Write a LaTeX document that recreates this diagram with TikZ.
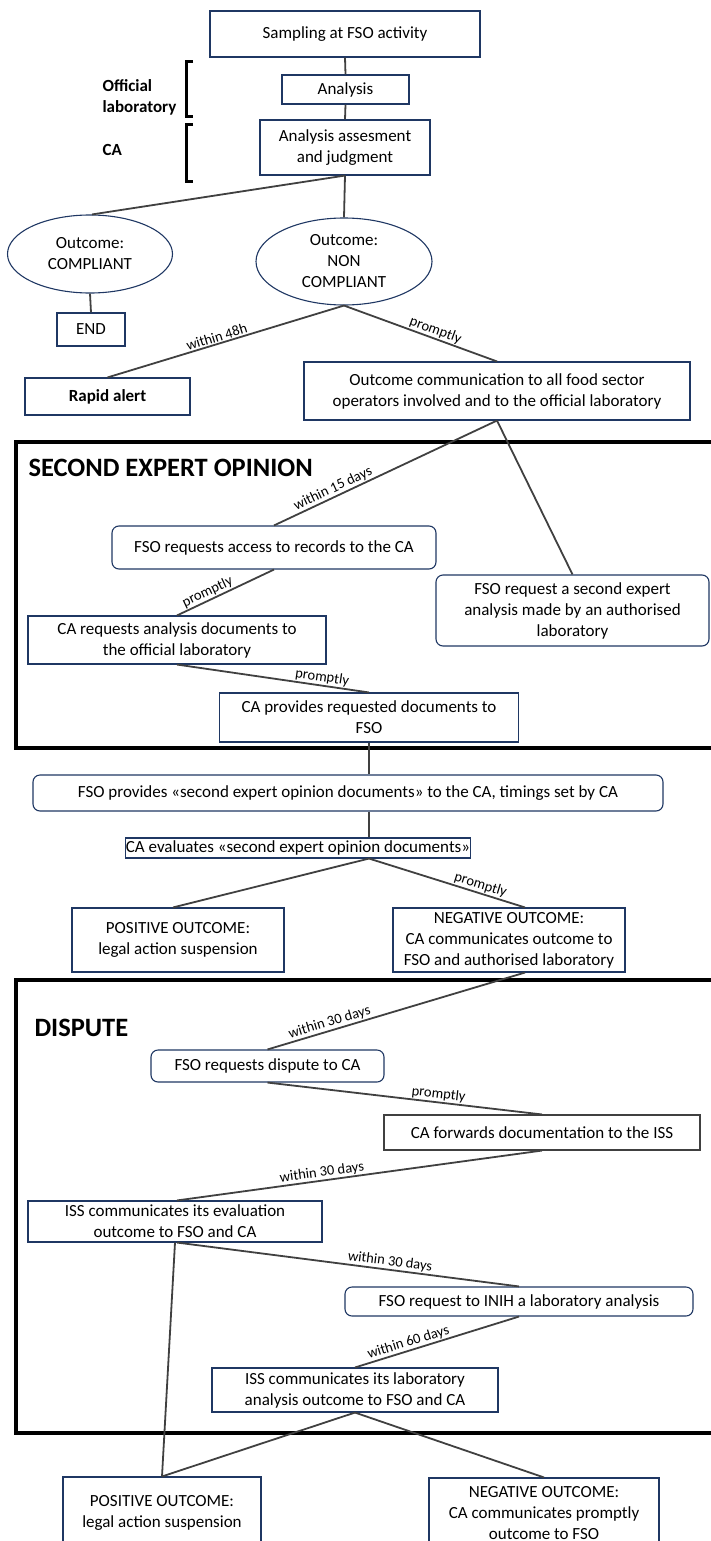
\documentclass[tikz,border=0pt]{standalone}
\usepackage{fontspec}
\setmainfont{Carlito}
\usetikzlibrary{shapes.geometric}
\definecolor{navy}{HTML}{1F3763}
\definecolor{linkgray}{HTML}{404040}
\newcommand{\boxfont}{\fontsize{17}{21}\selectfont}
\newcommand{\whenfont}{\fontsize{14.5}{16}\selectfont}
\newcommand{\headfont}{\fontsize{26.5}{32}\selectfont\bfseries}
\tikzset{
  box/.style={draw=navy, line width=1.1pt, align=center, inner sep=0pt, font=\boxfont},
  rbox/.style={box, rounded corners=7pt},
  oval/.style={box, ellipse},
  link/.style={draw=linkgray, line width=1.8pt},
  when/.style={font=\whenfont, sloped, above, inner sep=1pt},
  frame/.style={draw=black, line width=3.5pt},
  bracket/.style={draw=black, line width=3pt}
}
\begin{document}
\begin{tikzpicture}[x=1pt, y=-1pt]
		\useasboundingbox (0,0) rectangle (710,1541);
		% first stage
		\node[box, minimum width=270, minimum height=46] (samp) at (345,34) {Sampling at FSO activity};
		\node[box, minimum width=127, minimum height=29] (anal) at (345.5,89.5) {Analysis};
		\node[box, minimum width=170, minimum height=55] (assess) at (345,147.5) {Analysis assesment\\and judgment};
		\draw[bracket] (193,62) -- (186,62) -- (186,117) -- (193,117);
		\draw[bracket] (193,125) -- (186,125) -- (186,182) -- (193,182);
		\node[anchor=west, align=left, font=\boxfont\bfseries] (lab) at (99,97) {Official\\laboratory};
		\node[anchor=west, font=\boxfont\bfseries] (ca) at (99,150) {CA};
		\node[oval, minimum width=165, minimum height=78] (comp) at (90,254) {Outcome:\\COMPLIANT};
		\node[oval, minimum width=176, minimum height=87] (noncomp) at (344,261.5) {Outcome:\\NON\\COMPLIANT};
		\node[box, minimum width=68, minimum height=33] (fin) at (91,329.5) {END};
		\node[box, minimum width=165, minimum height=37, font=\boxfont\bfseries] (rapid) at (107.5,396.5) {Rapid alert};
		\node[box, minimum width=386, minimum height=58] (comm) at (497,391) {Outcome communication to all food sector\\operators involved and to the official laboratory};
		% second expert opinion
		\draw[frame] (16,442) rectangle (725,748);
		\node[anchor=west, font=\headfont] (title1) at (25,468) {SECOND EXPERT OPINION};
		\node[rbox, minimum width=324, minimum height=43] (access) at (274,547.5) {FSO requests access to records to the CA};
		\node[rbox, minimum width=273, minimum height=71] (second) at (572.5,610.5) {FSO request a second expert\\analysis made by an authorised\\laboratory};
		\node[box, minimum width=298, minimum height=48] (careq) at (177,640) {CA requests analysis documents to\\the official laboratory};
		\node[box, minimum width=299, minimum height=49] (caprov) at (369,717.5) {CA provides requested documents to\\FSO};
		\node[rbox, minimum width=630, minimum height=36] (fsoprov) at (348,793) {FSO provides «second expert opinion documents» to the CA, timings set by CA};
		\node[box, minimum width=262, minimum height=20] (caeval) at (298,848) {CA evaluates «second expert opinion documents»};
		\node[box, minimum width=212, minimum height=64] (pos1) at (178,940) {POSITIVE OUTCOME:\\legal action suspension};
		\node[box, minimum width=232, minimum height=64] (neg1) at (509,940) {NEGATIVE OUTCOME:\\CA communicates outcome to\\FSO and authorised laboratory};
		% dispute
		\draw[frame] (16,980) rectangle (725,1433);
		\node[anchor=west, font=\headfont] (title2) at (31,1028) {DISPUTE};
		\node[rbox, minimum width=233, minimum height=32] (dispreq) at (267.5,1066) {FSO requests dispute to CA};
		\node[box, draw=linkgray, minimum width=316, minimum height=35] (cafwd) at (542,1132.5) {CA forwards documentation to the ISS};
		\node[box, minimum width=294, minimum height=41] (isseval) at (175,1221.5) {ISS communicates its evaluation\\outcome to FSO and CA};
		\node[rbox, minimum width=348, minimum height=29] (inih) at (519,1301.5) {FSO request to INIH a laboratory analysis};
		\node[box, minimum width=286, minimum height=44] (isslab) at (355,1390) {ISS communicates its laboratory\\analysis outcome to FSO and CA};
		\node[box, minimum width=198, minimum height=72] (pos2) at (162,1513) {POSITIVE OUTCOME:\\legal action suspension};
		\node[box, minimum width=230, minimum height=70] (neg2) at (544,1513) {NEGATIVE OUTCOME:\\CA communicates promptly\\outcome to FSO};
		% connectors
		\draw[link] (samp.south) -- (anal.north);
		\draw[link] (anal.south) -- (assess.north);
		\draw[link] (assess.south) -- ([xshift=2]comp.north);
		\draw[link] (assess.south) -- (noncomp.north);
		\draw[link] (comp.south) -- (fin.north);
		\draw[link] (noncomp.south) -- node[when, pos=0.53] {within 48h} (rapid.north);
		\draw[link] (noncomp.south) -- node[when, pos=0.58] {promptly} (comm.north);
		\draw[link] (comm.south) -- node[when, pos=0.72] {within 15 days} (access.north);
		\draw[link] (comm.south) -- (second.north);
		\draw[link] (access.south) -- node[when, pos=0.65] {promptly} (careq.north);
		\draw[link] (careq.south) -- node[when, pos=0.75] {promptly} (caprov.north);
		\draw[link] (caprov.south) -- (caprov.south |- fsoprov.north);
		\draw[link] (caprov.south |- fsoprov.south) -- (caprov.south |- caeval.north);
		\coordinate (evalbot) at (caprov.south |- caeval.south);
		\draw[link] (evalbot) -- ([xshift=-5]pos1.north);
		\draw[link] (evalbot) -- node[when, pos=0.7] {promptly} ([xshift=16]neg1.north);
		\draw[link] ([xshift=16]neg1.south) -- node[when, pos=0.75] {within 30 days} (dispreq.north);
		\draw[link] (dispreq.south) -- node[when, pos=0.62] {promptly} (cafwd.north);
		\draw[link] (cafwd.south) -- node[when, pos=0.6] {within 30 days} ([xshift=2]isseval.north);
		\draw[link] ([xshift=2]isseval.south) -- node[when, pos=0.62] {within 30 days} (inih.north);
		\draw[link] (inih.south) -- node[when, pos=0.66] {within 60 days} (isslab.north);
		\draw[link] (isseval.south) -- (pos2.north);
		\draw[link] (isslab.south) -- (pos2.north);
		\draw[link] (isslab.south) -- (neg2.north);
\end{tikzpicture}
\end{document}
